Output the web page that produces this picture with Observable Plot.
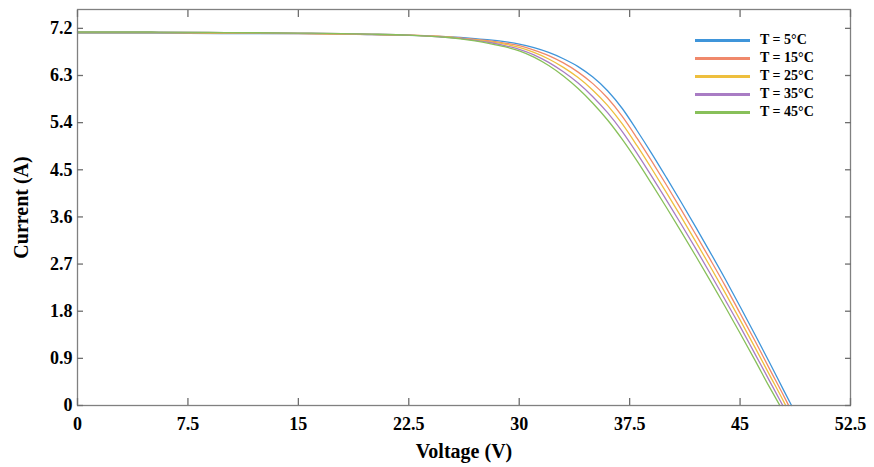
<!DOCTYPE html>
<html><head><meta charset="utf-8">
<script src="https://cdn.jsdelivr.net/npm/d3@7"></script>
<script src="https://cdn.jsdelivr.net/npm/@observablehq/plot@0.6"></script>
<style>
body{margin:0;background:#fff;}
#wrap{position:relative;width:874px;height:467px;}
#wrap svg text{font-family:"Liberation Serif",serif;font-weight:bold;}
#legend{position:absolute;left:695px;top:31px;font:bold 14px "Liberation Serif",serif;color:#000;}
#legend .row{display:flex;align-items:center;height:18px;}
#legend .sw{width:55px;height:3px;margin-right:10px;}
</style></head><body><div id="wrap"><div id="legend"></div></div>
<script>
const voltage = [0, 5, 10, 15, 20, 22.5, 25, 26, 27, 28, 29, 30, 31, 32, 33, 34, 35, 36, 37, 38, 39, 40, 41, 42, 43, 44, 45, 46, 47, 48];
const current5  = [7.11, 7.11, 7.10, 7.10, 7.08, 7.065, 7.04, 7.025, 7.005, 6.98, 6.945, 6.90, 6.83, 6.74, 6.62, 6.47, 6.27, 6.01, 5.67, 5.25, 4.81, 4.35, 3.88, 3.40, 2.91, 2.41, 1.89, 1.36, 0.82, 0.27];
const current15 = [7.12, 7.12, 7.11, 7.10, 7.08, 7.07, 7.04, 7.02, 6.99, 6.96, 6.92, 6.87, 6.785, 6.68, 6.54, 6.365, 6.145, 5.87, 5.52, 5.105, 4.665, 4.21, 3.74, 3.26, 2.775, 2.28, 1.76, 1.24, 0.70, 0.165];
const current25 = [7.12, 7.12, 7.11, 7.105, 7.085, 7.07, 7.035, 7.01, 6.98, 6.945, 6.90, 6.835, 6.74, 6.615, 6.455, 6.26, 6.02, 5.73, 5.375, 4.96, 4.52, 4.065, 3.60, 3.125, 2.64, 2.145, 1.635, 1.115, 0.585, 0.055];
const current35 = [7.13, 7.13, 7.12, 7.11, 7.09, 7.07, 7.03, 7.01, 6.97, 6.93, 6.87, 6.80, 6.695, 6.55, 6.37, 6.155, 5.895, 5.59, 5.23, 4.815, 4.375, 3.92, 3.46, 2.99, 2.505, 2.01, 1.51, 0.99, 0.47, null];
const current45 = [7.13, 7.13, 7.12, 7.11, 7.09, 7.07, 7.03, 7.00, 6.96, 6.91, 6.85, 6.77, 6.65, 6.49, 6.29, 6.05, 5.77, 5.45, 5.08, 4.67, 4.23, 3.78, 3.32, 2.85, 2.37, 1.88, 1.38, 0.87, 0.35, null];
const openCircuitVoltage = [48.5, 48.3, 48.1, 47.9, 47.7];
const temperatures = [5, 15, 25, 35, 45];
const seriesLabels = ["T = 5°C", "T = 15°C", "T = 25°C", "T = 35°C", "T = 45°C"];
const seriesColors = ["#3f95da", "#f0896b", "#eebf3e", "#a97cc4", "#88c05a"];
const xTicks = [0, 7.5, 15, 22.5, 30, 37.5, 45, 52.5];
const yTicks = [0, 0.9, 1.8, 2.7, 3.6, 4.5, 5.4, 6.3, 7.2];

const allSeries = [current5, current15, current25, current35, current45];
const data = [];
allSeries.forEach((cur, i) => {
  voltage.forEach((v, j) => {
    if (cur[j] != null && v < openCircuitVoltage[i]) data.push({V: v, I: cur[j], T: seriesLabels[i]});
  });
  data.push({V: openCircuitVoltage[i], I: 0, T: seriesLabels[i]});
});

const fmt = d => `${d}`;
const none = () => "";
const tickStyle = {stroke: "#6e6e6e", strokeWidth: 1.3, label: null};
const plot = Plot.plot({
  width: 874, height: 467,
  marginLeft: 77, marginRight: 24, marginTop: 9, marginBottom: 62,
  x: {domain: [0, 52.5]},
  y: {domain: [0, 7.56]},
  color: {domain: seriesLabels, range: seriesColors},
  style: {fontFamily: "Liberation Serif", background: "white", color: "black"},
  marks: [
    Plot.line(data, {x: "V", y: "I", z: "T", stroke: "T", strokeWidth: 1.3, curve: "monotone-x"}),
    Plot.frame({stroke: "#808080", strokeWidth: 1.3}),
    // inward tick marks on all four sides
    Plot.axisX({ticks: xTicks, anchor: "bottom", tickSize: 7, dy: -7, tickFormat: none, ...tickStyle}),
    Plot.axisX({ticks: xTicks, anchor: "top", tickSize: 7, dy: 7, tickFormat: none, ...tickStyle}),
    Plot.axisY({ticks: yTicks, anchor: "left", tickSize: 6, dx: 6, tickFormat: none, ...tickStyle}),
    Plot.axisY({ticks: yTicks, anchor: "right", tickSize: 6, dx: -6, tickFormat: none, ...tickStyle}),
    // tick labels and axis titles
    Plot.axisX({ticks: xTicks, anchor: "bottom", tickSize: 0, tickPadding: 12, tickFormat: fmt,
      fill: "black", fontSize: 18, fontWeight: "bold",
      label: "Voltage (V)", labelAnchor: "center", labelOffset: 52, labelArrow: "none"}),
    Plot.axisY({ticks: yTicks, anchor: "left", tickSize: 0, tickPadding: 5, tickFormat: fmt,
      fill: "black", fontSize: 18, fontWeight: "bold",
      label: "Current (A)", labelAnchor: "center", labelOffset: 64, labelArrow: "none"})
  ]
});
const wrap = document.getElementById("wrap");
wrap.insertBefore(plot, wrap.firstChild);
d3.select(plot).selectAll("[aria-label$='axis label'] text, [aria-label$='axis label']").style("font-size", "20px");

const legend = document.getElementById("legend");
seriesLabels.forEach((lab, i) => {
  const row = document.createElement("div");
  row.className = "row";
  row.innerHTML = `<div class="sw" style="background:${seriesColors[i]}"></div><span>${lab}</span>`;
  legend.appendChild(row);
});
</script>
</body></html>
